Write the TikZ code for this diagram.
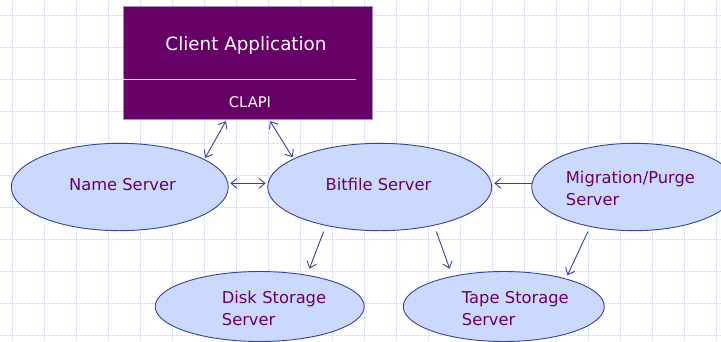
\documentclass[tikz,border=0pt]{standalone}
\usepackage{fontspec}
\setmainfont{DejaVu Sans}
\usetikzlibrary{shapes.geometric,arrows.meta}

\definecolor{plum}{HTML}{660066}
\definecolor{srvfill}{RGB}{204,217,255}
\definecolor{srvline}{RGB}{58,64,150}
\definecolor{gridcol}{RGB}{212,222,255}

\begin{document}
\begin{tikzpicture}[
    x=1pt, y=-1pt,
  server/.style = {
        draw=srvline, fill=srvfill, ellipse, line width=0.9pt,
        inner sep=0pt, outer sep=0pt},
 srvtext/.style = {
        text=plum, align=left, inner sep=0pt,
        font=\fontsize{16.3}{21.7}\selectfont},
  client/.style = {
        draw=srvline!55, fill=plum, rectangle, line width=0.8pt,
        minimum width=249pt, minimum height=112.3pt, inner sep=0pt},
 gridline/.style = {draw=gridcol, line width=0.6pt, dash pattern=on 2.5pt off 1.5pt},
   arrow/.style = {draw=srvline, line width=0.9pt,
        -{Straight Barb[length=6pt,width=10pt]}},
  twoway/.style = {arrow,
        {Straight Barb[length=6pt,width=10pt]}-{Straight Barb[length=6pt,width=10pt]}}
                    ]
\useasboundingbox (0,0) rectangle (721,341);
\clip (0,0) rectangle (721,341);
% the grid in the background
\foreach \gx in {0,...,22}
    \draw[gridline] (12.3+32*\gx,0) -- (12.3+32*\gx,341);
\foreach \gy in {0,...,10}
    \draw[gridline] (0,15+32*\gy) -- (721,15+32*\gy);

% the client box at the top
\node (cl) [client] at (247.8,62.85) {};
\draw[draw=srvfill!70, line width=0.8pt]
    ([yshift=-16.5pt]cl.west) -- ([xshift=-16.3pt,yshift=-16.5pt]cl.east);
\node (clt) [anchor=base, text=white, inner sep=0pt,
             font=\fontsize{18.3}{22}\selectfont] at (246,50) {Client Application};
\node (cpt) [anchor=base, text=white, inner sep=0pt,
             font=\fontsize{14.7}{18}\selectfont] at (250,107.3) {CLAPI};

% the servers
\node (ns) [server, minimum width=217pt, minimum height=87.4pt]   at (119.8,187) {};
\node (bf) [server, minimum width=224pt, minimum height=87.4pt]   at (379.7,187) {};
\node (mp) [server, minimum width=205.4pt, minimum height=87.4pt] at (634.4,187) {};
\node (ds) [server, minimum width=209pt, minimum height=70pt]     at (259.7,306.5) {};
\node (ts) [server, minimum width=201pt, minimum height=70pt]     at (503.8,306.5) {};

% the texts in the servers
\node (nst) [srvtext, anchor=base] at (122.5,190.7) {Name Server};
\node (bft) [srvtext, anchor=base] at (378.5,190.7) {Bitfile Server};
\node (mpt) [srvtext, text width=150pt, anchor=base west] at (565.7,183.3)
                {Migration/Purge\\ Server};
\node (dst) [srvtext, text width=120pt, anchor=base west] at (221.7,303.3)
                {Disk Storage\\ Server};
\node (tst) [srvtext, text width=120pt, anchor=base west] at (461.7,303.3)
                {Tape Storage\\ Server};

% the arrows
\draw[twoway, shorten <=2pt, shorten >=2pt] ([xshift=-21pt]cl.south) -- (ns.18);
\draw[twoway, shorten <=2pt, shorten >=2pt] ([xshift=21.2pt]cl.south) -- (bf.162);
\draw[twoway, shorten <=2pt, shorten >=2pt]
    ([yshift=3.7pt]ns.east) -- ([yshift=3.7pt]bf.west);
\draw[arrow, shorten >=2.5pt] ([yshift=3.7pt]mp.west) -- ([yshift=3.7pt]bf.east);
\draw[arrow, shorten <=1pt, shorten >=3pt]
    ([xshift=-55.7pt]bf.south) -- ([xshift=48.6pt]ds.north);
\draw[arrow, shorten <=1pt, shorten >=3pt]
    ([xshift=56.3pt]bf.south) -- ([xshift=-53.1pt]ts.north);
\draw[arrow, shorten <=1pt, shorten >=4pt]
    ([xshift=-46.1pt]mp.south) -- (ts.24);
\end{tikzpicture}
\end{document}
